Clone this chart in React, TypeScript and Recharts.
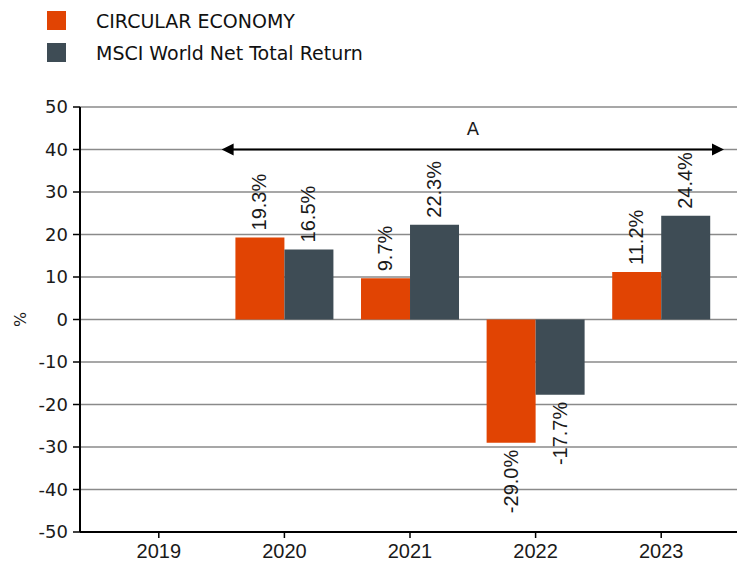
import React from 'react';
import {
  BarChart,
  Bar,
  XAxis,
  YAxis,
  CartesianGrid,
  ReferenceLine,
  LabelList,
  Legend,
  Label,
} from 'recharts';

const categories = ['2019', '2020', '2021', '2022', '2023'];
const circularEconomy: (number | null)[] = [null, 19.3, 9.7, -29.0, 11.2];
const msciWorld: (number | null)[] = [null, 16.5, 22.3, -17.7, 24.4];
const seriesNames = ['CIRCULAR ECONOMY', 'MSCI World Net Total Return'];
const yTicks = [-50, -40, -30, -20, -10, 0, 10, 20, 30, 40, 50];
const arrowLabel = 'A';
const arrowLevel = 40;
const arrowFrom = '2020';
const arrowTo = '2023';

const ORANGE = '#E14403';
const SLATE = '#3E4C55';
const BAR_FONT = '"Liberation Sans", Arial, sans-serif';
const DJ_FONT = '"DejaVu Sans", sans-serif';

const data = categories.map((c, i) => ({
  year: c,
  ce: circularEconomy[i],
  msci: msciWorld[i],
}));

const bandsBetween = categories.indexOf(arrowTo) - categories.indexOf(arrowFrom);

const renderValueLabel = (props: any) => {
  const { x, y, width, height, value } = props;
  if (value === null || value === undefined) return null;
  const v = Number(value);
  const nx = Number(x);
  const ny = Number(y);
  const nw = Number(width);
  const nh = Number(height);
  const top = Math.min(ny, ny + nh);
  const bottom = Math.max(ny, ny + nh);
  const pos = v >= 0;
  const tx = nx + nw / 2 + 6.5;
  const ty = pos ? top - 7 : bottom + 7;
  return (
    <text
      x={tx}
      y={ty}
      transform={`rotate(-90 ${tx} ${ty})`}
      textAnchor={pos ? 'start' : 'end'}
      fontFamily={BAR_FONT}
      fontSize={20}
      fill="#1a1a1a"
    >
      {v.toFixed(1)}%
    </text>
  );
};

// Segment runs between the centres of two categories; extend to band edges.
const ArrowShape = (props: any) => {
  const cx1 = Number(props.x1);
  const cx2 = Number(props.x2);
  const yy = Number(props.y1);
  const bw = (cx2 - cx1) / bandsBetween;
  const x1 = cx1 - bw / 2;
  const x2 = cx2 + bw / 2;
  const head = 12;
  const half = 6;
  const mid = (x1 + x2) / 2;
  return (
    <g>
      <line x1={x1 + head - 1} y1={yy} x2={x2 - head + 1} y2={yy} stroke="#000" strokeWidth={2} />
      <polygon points={`${x1},${yy} ${x1 + head},${yy - half} ${x1 + head},${yy + half}`} fill="#000" />
      <polygon points={`${x2},${yy} ${x2 - head},${yy - half} ${x2 - head},${yy + half}`} fill="#000" />
      <text
        x={mid}
        y={yy - 15}
        textAnchor="middle"
        fontFamily={DJ_FONT}
        fontSize={18}
        fill="#1a1a1a"
      >
        {arrowLabel}
      </text>
    </g>
  );
};

const renderLegend = (props: any) => {
  const payload = props.payload || [];
  return (
    <div style={{ position: 'relative', width: 420, height: 75 }}>
      {payload.map((entry: any, i: number) => (
        <div key={i}>
          <div
            style={{
              position: 'absolute',
              left: 47,
              top: 11 + i * 32,
              width: 19,
              height: 19,
              background: entry.color,
            }}
          />
          <div
            style={{
              position: 'absolute',
              left: 96,
              top: 8 + i * 32,
              height: 26,
              lineHeight: '26px',
              fontFamily: DJ_FONT,
              fontSize: 19,
              color: '#111',
              whiteSpace: 'nowrap',
            }}
          >
            {entry.value}
          </div>
        </div>
      ))}
    </div>
  );
};

const renderPercentLabel = (props: any) => {
  const vb = props.viewBox || {};
  const cx = 20;
  const cy = Number(vb.y) + Number(vb.height) / 2;
  return (
    <text
      x={cx}
      y={cy}
      transform={`rotate(-90 ${cx} ${cy})`}
      textAnchor="middle"
      dominantBaseline="central"
      fontFamily={DJ_FONT}
      fontSize={16}
      fill="#1a1a1a"
    >
      %
    </text>
  );
};

export default function App() {
  return (
    <div style={{ position: 'absolute', left: 0, top: 0, width: 737, height: 562, background: '#fff' }}>
      <BarChart
        width={737}
        height={562}
        data={data}
        margin={{ top: 107, right: 0, bottom: 0, left: 0 }}
        barCategoryGap="11%"
        barGap={0}
      >
        <CartesianGrid vertical={false} stroke="#8a8a8a" strokeWidth={1.5} />
        <XAxis
          dataKey="year"
          type="category"
          height={30}
          padding={{ left: 16, right: 13 }}
          axisLine={{ stroke: '#000', strokeWidth: 2 }}
          tickLine={{ stroke: '#000', strokeWidth: 1.5 }}
          tickSize={6}
          tickMargin={6}
          tick={{ fontFamily: BAR_FONT, fontSize: 20, fill: '#1a1a1a' }}
        />
        <YAxis
          width={80}
          domain={[-50, 50]}
          ticks={yTicks}
          interval={0}
          allowDataOverflow
          axisLine={{ stroke: '#000', strokeWidth: 2 }}
          tickLine={{ stroke: '#000', strokeWidth: 1.5 }}
          tickSize={7}
          tickMargin={5}
          tick={{ fontFamily: DJ_FONT, fontSize: 18, fill: '#1a1a1a' }}
        >
          <Label content={renderPercentLabel} />
        </YAxis>
        <Legend
          layout="vertical"
          align="center"
          verticalAlign="middle"
          wrapperStyle={{ top: 0, left: 0, width: 420, height: 75 }}
          content={renderLegend}
        />
        <ReferenceLine
          segment={[
            { x: arrowFrom, y: arrowLevel },
            { x: arrowTo, y: arrowLevel },
          ]}
          ifOverflow="visible"
          shape={ArrowShape}
        />
        <Bar dataKey="ce" name={seriesNames[0]} fill={ORANGE} isAnimationActive={false}>
          <LabelList dataKey="ce" content={renderValueLabel} />
        </Bar>
        <Bar dataKey="msci" name={seriesNames[1]} fill={SLATE} isAnimationActive={false}>
          <LabelList dataKey="msci" content={renderValueLabel} />
        </Bar>
      </BarChart>
    </div>
  );
}
